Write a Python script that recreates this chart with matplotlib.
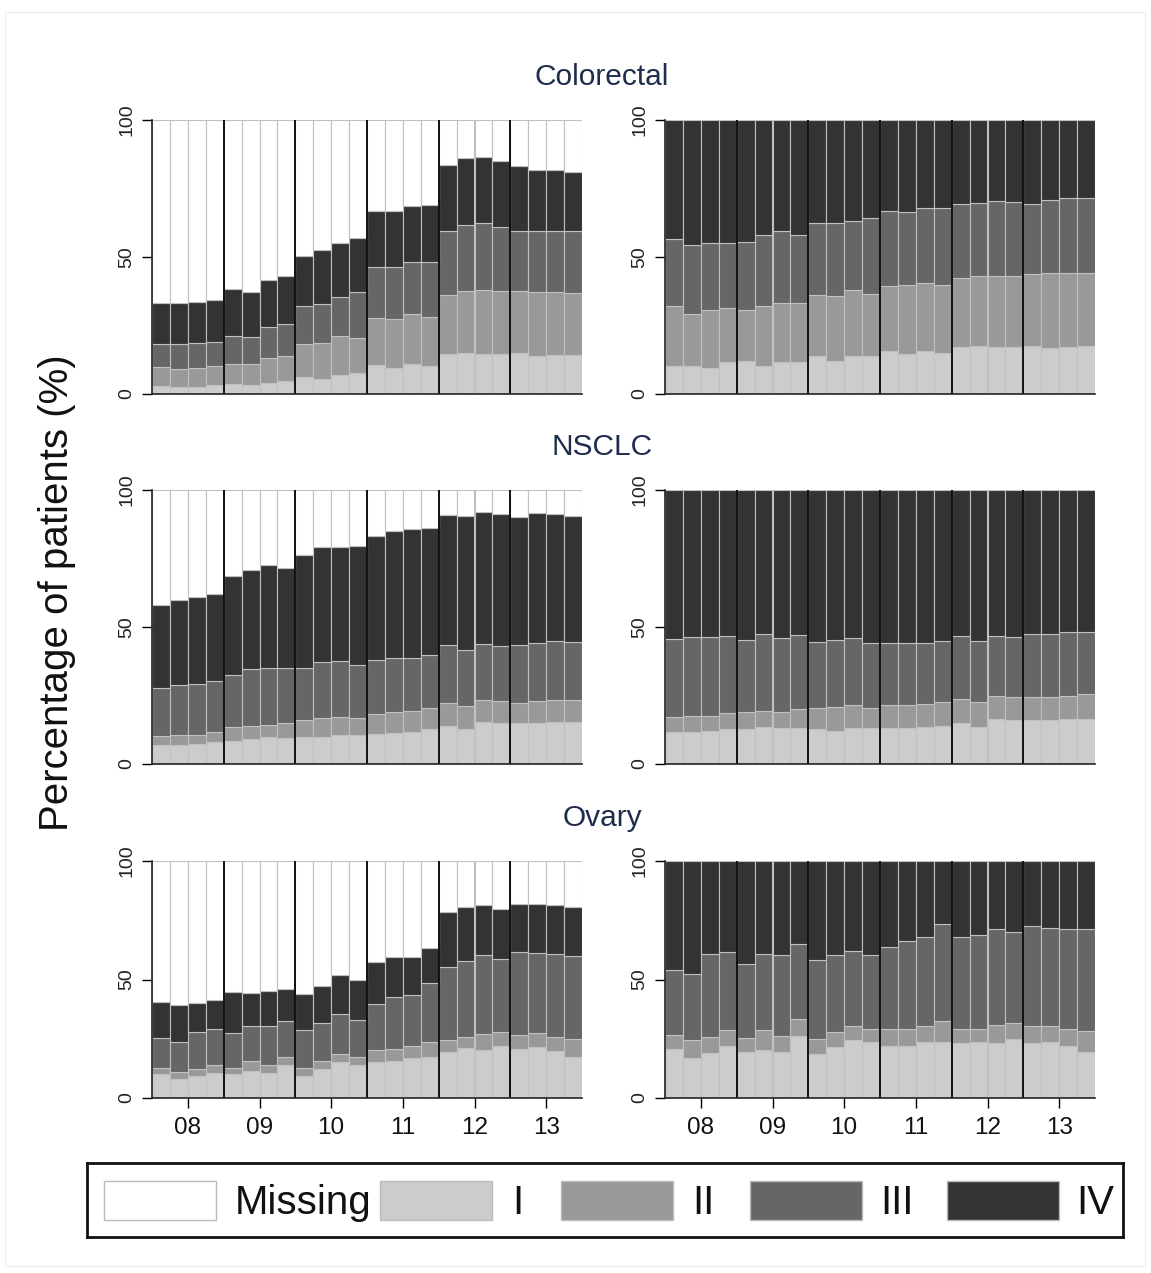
import numpy as np
import matplotlib.pyplot as plt
from matplotlib.patches import Rectangle

plt.rcParams['font.family'] = ['Liberation Sans', 'DejaVu Sans']

years = ['08', '09', '10', '11', '12', '13']
quarters_per_year = 4
stage_names = ['I', 'II', 'III', 'IV', 'Missing']
stage_colors = ['#cccccc', '#999999', '#666666', '#333333', '#ffffff']
cancer_types = ['Colorectal', 'NSCLC', 'Ovary']

# upper edge (cumulative %) of stages I..IV, one value per quarter 2008Q1..2013Q4
# left column: all patients (the rest up to 100 is "Missing")
crc_all_I = [2.8, 2.6, 2.6, 3.2, 3.5, 3.2, 4.0, 4.6, 6.3, 5.6, 7.1, 7.7,
             10.5, 9.6, 10.9, 10.4, 14.5, 15.1, 14.5, 14.7, 15.0, 13.7, 14.2, 14.2]
crc_all_II = [9.9, 9.3, 9.6, 10.1, 11.1, 11.1, 13.3, 14.0, 18.1, 18.6, 21.1, 20.6,
              27.6, 27.4, 29.1, 28.0, 36.1, 37.7, 38.0, 37.6, 37.6, 37.4, 37.1, 36.8]
crc_all_III = [18.4, 18.1, 18.7, 18.8, 21.1, 20.9, 24.5, 25.5, 32.1, 32.7, 35.5, 37.2,
               46.3, 46.5, 48.0, 48.2, 59.6, 61.5, 62.4, 61.1, 59.6, 59.6, 59.6, 59.6]
crc_all_IV = [33.3, 33.3, 33.7, 34.3, 38.2, 37.1, 41.6, 43.2, 50.5, 52.4, 55.1, 56.9,
              66.7, 66.7, 68.5, 69.1, 83.4, 86.0, 86.6, 85.1, 83.3, 81.9, 81.8, 81.2]

nsclc_all_I = [6.8, 6.8, 7.3, 7.9, 8.3, 9.3, 9.9, 9.6, 9.9, 9.9, 10.5, 10.6,
               10.9, 11.4, 11.8, 12.6, 13.9, 12.8, 15.3, 14.9, 14.9, 14.9, 15.4, 15.4]
nsclc_all_II = [10.4, 10.7, 10.7, 11.8, 13.4, 13.9, 14.3, 14.8, 16.2, 16.8, 17.3, 16.8,
                18.3, 18.8, 19.4, 20.4, 22.3, 21.2, 23.3, 23.0, 22.3, 23.0, 23.3, 23.3]
nsclc_all_III = [27.8, 28.8, 29.3, 30.3, 32.4, 34.8, 35.0, 35.0, 35.0, 37.1, 37.7, 36.3,
                 37.9, 38.8, 38.8, 39.8, 43.3, 41.6, 43.8, 43.2, 43.6, 44.3, 44.8, 44.4]
nsclc_all_IV = [58.1, 60.0, 60.9, 62.0, 68.5, 70.9, 72.5, 71.6, 76.3, 79.2, 79.1, 79.6,
                83.2, 85.1, 85.6, 86.1, 91.0, 90.5, 91.8, 91.1, 90.2, 91.5, 91.2, 90.6]

ovary_all_I = [10.0, 8.0, 9.3, 10.5, 10.2, 11.2, 10.5, 14.0, 9.4, 12.2, 15.0, 14.0,
               15.1, 15.7, 16.8, 17.4, 19.2, 21.2, 20.3, 22.0, 20.8, 21.5, 19.9, 17.4]
ovary_all_II = [12.6, 10.9, 12.2, 13.9, 12.8, 15.7, 14.0, 17.3, 12.6, 15.7, 18.5, 17.3,
                20.2, 20.8, 22.0, 23.8, 24.4, 25.9, 27.2, 27.8, 26.5, 27.6, 25.9, 24.8]
ovary_all_III = [25.5, 23.7, 27.8, 29.0, 27.3, 30.4, 30.4, 32.7, 28.6, 31.7, 35.5, 33.0,
                 39.7, 42.5, 43.6, 48.7, 55.1, 57.9, 60.2, 58.6, 61.4, 61.2, 60.6, 60.0]
ovary_all_IV = [40.5, 39.1, 40.0, 41.2, 44.6, 44.3, 45.0, 45.9, 44.0, 47.4, 51.8, 49.6,
                57.4, 59.5, 59.6, 63.4, 78.3, 80.5, 81.6, 79.8, 82.0, 82.0, 81.6, 80.8]

# right column: patients with known stage (stage IV fills up to 100)
crc_known_I = [10.1, 10.1, 9.6, 11.7, 12.1, 10.1, 11.6, 11.6, 13.7, 12.1, 13.7, 13.9,
               15.8, 14.5, 15.8, 15.1, 17.1, 17.6, 17.1, 17.1, 17.6, 16.7, 17.1, 17.6]
crc_known_II = [32.1, 29.2, 30.6, 31.4, 30.6, 32.1, 33.1, 33.1, 36.1, 35.7, 38.0, 36.4,
                39.4, 39.6, 40.5, 39.6, 42.2, 43.0, 43.0, 43.2, 43.8, 44.2, 44.2, 44.2]
crc_known_III = [56.5, 54.5, 55.1, 55.1, 55.4, 58.0, 59.5, 58.0, 62.5, 62.3, 63.0, 64.1,
                 66.8, 66.5, 67.8, 67.8, 69.4, 69.6, 70.5, 70.2, 69.4, 70.9, 71.4, 71.7]

nsclc_known_I = [11.5, 11.7, 12.1, 12.6, 12.6, 13.5, 13.3, 13.3, 12.6, 12.1, 13.0, 13.3,
                 13.0, 13.0, 13.5, 14.0, 14.8, 13.5, 16.3, 16.0, 16.0, 16.0, 16.6, 16.6]
nsclc_known_II = [17.2, 17.4, 17.4, 18.5, 18.9, 19.5, 18.9, 20.1, 20.5, 20.7, 21.5, 20.5,
                  21.5, 21.5, 22.0, 22.8, 23.9, 22.6, 24.9, 24.4, 24.4, 24.4, 24.9, 25.5]
nsclc_known_III = [45.6, 46.3, 46.3, 46.6, 45.4, 47.4, 46.0, 47.0, 44.4, 45.1, 45.9, 44.0,
                   44.0, 44.0, 44.0, 44.9, 46.7, 44.9, 46.8, 46.3, 47.3, 47.6, 48.2, 48.2]

ovary_known_I = [20.8, 16.7, 19.1, 22.0, 19.6, 20.3, 19.6, 26.2, 18.5, 21.5, 24.3, 23.8,
                 22.0, 22.0, 23.7, 23.7, 23.1, 23.8, 23.1, 24.8, 23.4, 23.8, 21.9, 19.6]
ovary_known_II = [26.5, 24.3, 25.7, 28.8, 25.2, 28.8, 26.1, 33.2, 24.8, 27.8, 30.4, 29.3,
                  29.3, 29.0, 30.4, 32.7, 29.3, 29.3, 30.9, 31.6, 30.4, 30.4, 29.3, 28.2]
ovary_known_III = [54.0, 52.5, 60.9, 61.4, 56.4, 60.9, 60.4, 64.9, 58.2, 60.3, 62.1, 60.3,
                   63.8, 66.1, 68.0, 73.6, 68.0, 68.9, 71.5, 70.1, 72.5, 71.7, 71.5, 71.5]

left_panels = [
    [crc_all_I, crc_all_II, crc_all_III, crc_all_IV],
    [nsclc_all_I, nsclc_all_II, nsclc_all_III, nsclc_all_IV],
    [ovary_all_I, ovary_all_II, ovary_all_III, ovary_all_IV],
]
right_panels = [
    [crc_known_I, crc_known_II, crc_known_III],
    [nsclc_known_I, nsclc_known_II, nsclc_known_III],
    [ovary_known_I, ovary_known_II, ovary_known_III],
]

W, H = 1151, 1273
fig = plt.figure(figsize=(W / 100, H / 100), dpi=100)

# faint outer frame
fig.patches.append(Rectangle((5 / W, 1 - 1266 / H), 1140 / W, 1254 / H,
                             transform=fig.transFigure, fill=False,
                             edgecolor='#f0f0f0', linewidth=1))


def fx(px):
    return px / W


def fy(px):
    return 1 - px / H


# (top px of 100, bottom px of 0) for each row
rows_px = [(120, 394), (490, 764), (861, 1098)]
cols_px = [(152, 582), (665, 1095)]
title_y = [77, 447, 818]

n_bars = len(years) * quarters_per_year
x = np.arange(1, n_bars + 1)


def draw_panel(ax, edges, show_years):
    tops = [np.array(e) for e in edges]
    if len(tops) < 5:
        tops.append(np.full(n_bars, 100.0))
    bottom = np.zeros(n_bars)
    for top, color in zip(tops, stage_colors):
        ax.bar(x, top - bottom, bottom=bottom, width=1.0, color=color,
               edgecolor='#c0c0c0', linewidth=0.8)
        bottom = top
    for k in range(1, len(years)):
        ax.axvline(k * quarters_per_year + 0.5, color='#111111', linewidth=1.4)
    ax.set_xlim(0.5, n_bars + 0.5)
    ax.set_ylim(0, 100)
    for s in ['top', 'right']:
        ax.spines[s].set_visible(False)
    ax.spines['left'].set_color('#222222')
    ax.spines['bottom'].set_color('#222222')
    ax.spines['left'].set_linewidth(1.2)
    ax.spines['bottom'].set_linewidth(1.2)
    ax.set_yticks([0, 50, 100])
    ax.set_yticklabels(['0', '50', '100'], rotation=90, va='center',
                       fontsize=14, color='#222222')
    ax.tick_params(axis='y', length=7, width=1, pad=5)
    centers = np.arange(len(years)) * quarters_per_year + 2.5
    if show_years:
        ax.set_xticks(centers)
        ax.set_xticklabels(years, fontsize=17.5, color='#111111')
        ax.tick_params(axis='x', length=7, width=1, pad=7)
    else:
        ax.set_xticks([])


for r, (ytop, ybot) in enumerate(rows_px):
    for c, (xl, xr) in enumerate(cols_px):
        ax = fig.add_axes([fx(xl), fy(ybot), (xr - xl) / W, (ybot - ytop) / H])
        edges = left_panels[r] if c == 0 else right_panels[r]
        draw_panel(ax, edges, show_years=(r == len(rows_px) - 1))
    fig.text(fx(602), fy(title_y[r]), cancer_types[r], ha='center', va='center',
             fontsize=21.5, color='#1f2d4d')

fig.text(fx(57), fy(593), 'Percentage of patients (%)', rotation=90,
         ha='center', va='center', fontsize=29, color='#111111')

# legend box
lx0, lx1, ly0, ly1 = 87, 1123, 1163, 1237
lax = fig.add_axes([fx(lx0), fy(ly1), (lx1 - lx0) / W, (ly1 - ly0) / H])
lax.set_xlim(lx0, lx1)
lax.set_ylim(ly1, ly0)
lax.set_xticks([])
lax.set_yticks([])
for s in lax.spines.values():
    s.set_linewidth(2)
    s.set_color('#111111')
legend_order = ['Missing', 'I', 'II', 'III', 'IV']
patch_left = [104, 380, 561, 750, 947]
text_left = [235, 512, 692, 880, 1076]
for name, px0, tx0 in zip(legend_order, patch_left, text_left):
    color = stage_colors[stage_names.index(name)]
    lax.add_patch(Rectangle((px0, 1181), 112, 39, facecolor=color,
                            edgecolor='#bbbbbb', linewidth=1))
    lax.text(tx0, 1203, name, ha='left', va='center', fontsize=29,
             color='#111111')

fig.savefig('out.png', dpi=100)
